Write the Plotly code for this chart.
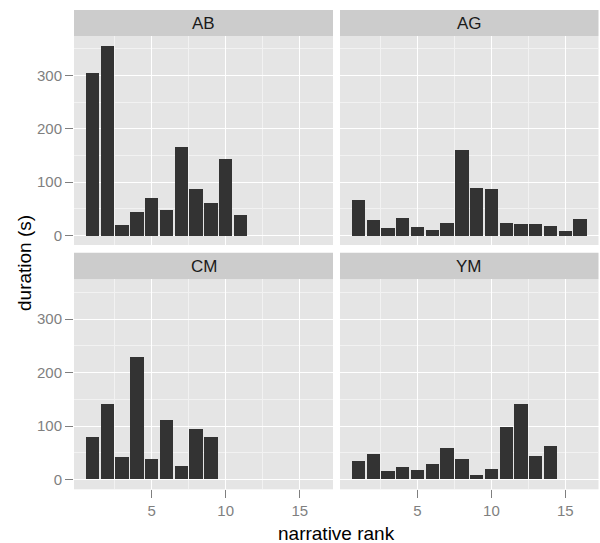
import plotly.graph_objects as go

# ---- data ----
panels = ["AB", "AG", "CM", "YM"]
ab_duration = [304, 356, 20, 44, 71, 48, 166, 88, 61, 143, 38]
ag_duration = [66, 29, 14, 33, 16, 11, 23, 161, 90, 88, 23, 21, 21, 18, 8, 31]
cm_duration = [80, 141, 42, 229, 38, 111, 25, 95, 80]
ym_duration = [35, 48, 15, 23, 18, 28, 58, 38, 8, 20, 98, 141, 43, 63]
x_ticks = [5, 10, 15]
y_ticks = [0, 100, 200, 300]
x_minor = [2.5, 7.5, 12.5]
y_minor = [50, 150, 250, 350]

series = [ab_duration, ag_duration, cm_duration, ym_duration]

W, H = 600, 543
FONT = "Liberation Sans, Arial, sans-serif"
TICKCOL = "#7F7F7F"

def px(x):
    return x / W

def py(y):
    return 1 - y / H

xdom = [(px(74), px(333)), (px(340), px(598.5))]
plot_rows = [(36, 245), (279.3, 489.3)]
strip_rows = [(10, 36), (252.7, 279.3)]

fig = go.Figure()
shapes = []
annotations = []

xrng = [-0.245, 17.245]
yrng = [-17.8, 374.3]

for i, (name, vals) in enumerate(zip(panels, series)):
    r, c = divmod(i, 2)
    ax = "" if i == 0 else str(i + 1)
    fig.add_trace(go.Bar(
        x=list(range(1, len(vals) + 1)), y=vals, width=0.9,
        marker=dict(color="#333333", line=dict(width=0)),
        xaxis="x" + ax, yaxis="y" + ax, showlegend=False,
    ))
    top, bot = plot_rows[r]
    fig.update_layout(**{
        "xaxis" + ax: dict(
            domain=list(xdom[c]), range=xrng, anchor="y" + ax,
            tickmode="array", tickvals=x_ticks,
            showticklabels=(r == 1), ticks="outside" if r == 1 else "",
            ticklen=8, tickcolor=TICKCOL, tickwidth=1,
            tickfont=dict(family=FONT, size=15, color=TICKCOL),
            showgrid=True, gridcolor="white", gridwidth=1.2,
            zeroline=False, showline=False,
            minor=dict(tickvals=x_minor, showgrid=True, gridcolor="#F2F2F2", gridwidth=0.7, ticks=""),
            fixedrange=True,
        ),
        "yaxis" + ax: dict(
            domain=[py(bot), py(top)], range=yrng, anchor="x" + ax,
            tickmode="array", tickvals=y_ticks,
            showticklabels=(c == 0), ticks="outside" if c == 0 else "",
            ticklen=8, tickcolor=TICKCOL, tickwidth=1,
            tickfont=dict(family=FONT, size=15, color=TICKCOL),
            showgrid=True, gridcolor="white", gridwidth=1.2,
            zeroline=False, showline=False,
            minor=dict(tickvals=y_minor, showgrid=True, gridcolor="#F2F2F2", gridwidth=0.7, ticks=""),
            fixedrange=True,
        ),
    })
    st, sb = strip_rows[r]
    shapes.append(dict(type="rect", xref="paper", yref="paper",
                       x0=xdom[c][0], x1=xdom[c][1], y0=py(sb), y1=py(st),
                       fillcolor="#CCCCCC", line=dict(width=0), layer="below"))
    annotations.append(dict(text=name, xref="paper", yref="paper",
                            x=(xdom[c][0] + xdom[c][1]) / 2, y=py((st + sb) / 2),
                            showarrow=False, xanchor="center", yanchor="middle",
                            font=dict(family=FONT, size=17, color="#1A1A1A")))

annotations.append(dict(text="narrative rank", xref="paper", yref="paper",
                        x=px(336), y=py(533), showarrow=False,
                        xanchor="center", yanchor="middle",
                        font=dict(family=FONT, size=19, color="black")))
annotations.append(dict(text="duration (s)", xref="paper", yref="paper",
                        x=px(24), y=py(263), showarrow=False, textangle=-90,
                        xanchor="center", yanchor="middle",
                        font=dict(family=FONT, size=19, color="black")))

fig.update_layout(
    width=W, height=H, margin=dict(l=0, r=0, t=0, b=0),
    paper_bgcolor="white", plot_bgcolor="#E5E5E5",
    shapes=shapes, annotations=annotations, bargap=0,
    font=dict(family=FONT),
)

fig.write_html("out.html", config={"displayModeBar": False},
               post_script="document.body.style.margin='0';")
